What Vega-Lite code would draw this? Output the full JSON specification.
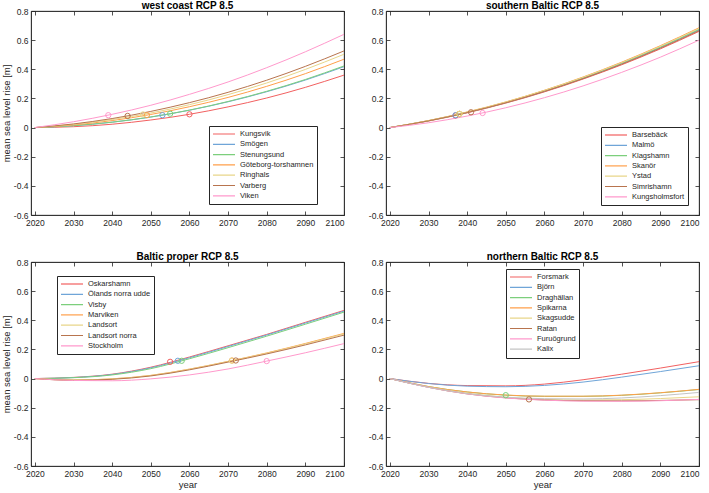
{
"$schema": "https://vega.github.io/schema/vega-lite/v6.json",
"background": "white",
"padding": {"left": 0, "top": 0, "right": 0, "bottom": 0},
"datasets": {
"w": [
{"year":2020,"Kungsvik":0,"Smögen":0,"Stenungsund":0,"Göteborg-torshamnen":0,"Ringhals":0,"Varberg":0,"Viken":0},
{"year":2030,"Kungsvik":0.006,"Smögen":0.013,"Stenungsund":0.013,"Göteborg-torshamnen":0.018,"Ringhals":0.022,"Varberg":0.025,"Viken":0.040},
{"year":2040,"Kungsvik":0.023,"Smögen":0.037,"Stenungsund":0.037,"Göteborg-torshamnen":0.048,"Ringhals":0.055,"Varberg":0.062,"Viken":0.091},
{"year":2050,"Kungsvik":0.052,"Smögen":0.072,"Stenungsund":0.073,"Göteborg-torshamnen":0.090,"Ringhals":0.100,"Varberg":0.111,"Viken":0.153},
{"year":2060,"Kungsvik":0.091,"Smögen":0.119,"Stenungsund":0.120,"Göteborg-torshamnen":0.143,"Ringhals":0.157,"Varberg":0.171,"Viken":0.228},
{"year":2070,"Kungsvik":0.142,"Smögen":0.177,"Stenungsund":0.179,"Göteborg-torshamnen":0.207,"Ringhals":0.226,"Varberg":0.242,"Viken":0.313},
{"year":2080,"Kungsvik":0.203,"Smögen":0.246,"Stenungsund":0.249,"Göteborg-torshamnen":0.283,"Ringhals":0.306,"Varberg":0.325,"Viken":0.411},
{"year":2090,"Kungsvik":0.276,"Smögen":0.326,"Stenungsund":0.330,"Göteborg-torshamnen":0.370,"Ringhals":0.399,"Varberg":0.420,"Viken":0.520},
{"year":2100,"Kungsvik":0.360,"Smögen":0.418,"Stenungsund":0.423,"Göteborg-torshamnen":0.469,"Ringhals":0.503,"Varberg":0.526,"Viken":0.640}
],
"s": [
{"year":2020,"Barsebäck":0,"Malmö":0,"Klagshamn":0,"Skanör":0,"Ystad":0,"Simrishamn":0,"Kungsholmsfort":0},
{"year":2030,"Barsebäck":0.045,"Malmö":0.047,"Klagshamn":0.047,"Skanör":0.048,"Ystad":0.048,"Simrishamn":0.046,"Kungsholmsfort":0.033},
{"year":2040,"Barsebäck":0.101,"Malmö":0.104,"Klagshamn":0.105,"Skanör":0.107,"Ystad":0.106,"Simrishamn":0.103,"Kungsholmsfort":0.079},
{"year":2050,"Barsebäck":0.168,"Malmö":0.172,"Klagshamn":0.173,"Skanör":0.176,"Ystad":0.175,"Simrishamn":0.170,"Kungsholmsfort":0.136},
{"year":2060,"Barsebäck":0.245,"Malmö":0.250,"Klagshamn":0.253,"Skanör":0.256,"Ystad":0.255,"Simrishamn":0.248,"Kungsholmsfort":0.205},
{"year":2070,"Barsebäck":0.333,"Malmö":0.339,"Klagshamn":0.342,"Skanör":0.347,"Ystad":0.345,"Simrishamn":0.336,"Kungsholmsfort":0.286},
{"year":2080,"Barsebäck":0.431,"Malmö":0.439,"Klagshamn":0.443,"Skanör":0.449,"Ystad":0.446,"Simrishamn":0.435,"Kungsholmsfort":0.379},
{"year":2090,"Barsebäck":0.540,"Malmö":0.549,"Klagshamn":0.553,"Skanör":0.562,"Ystad":0.558,"Simrishamn":0.545,"Kungsholmsfort":0.483},
{"year":2100,"Barsebäck":0.660,"Malmö":0.670,"Klagshamn":0.675,"Skanör":0.685,"Ystad":0.680,"Simrishamn":0.665,"Kungsholmsfort":0.600}
],
"b": [
{"year":2020,"Oskarshamn":0,"Ölands norra udde":0,"Visby":0,"Marviken":0,"Landsort":0,"Landsort norra":0,"Stockholm":0},
{"year":2030,"Oskarshamn":0.008,"Ölands norra udde":0.007,"Visby":0.006,"Marviken":-0.010,"Landsort":-0.010,"Landsort norra":-0.012,"Stockholm":-0.013},
{"year":2040,"Oskarshamn":0.030,"Ölands norra udde":0.028,"Visby":0.025,"Marviken":-0.002,"Landsort":-0.002,"Landsort norra":-0.005,"Stockholm":-0.015},
{"year":2050,"Oskarshamn":0.078,"Ölands norra udde":0.074,"Visby":0.068,"Marviken":0.022,"Landsort":0.021,"Landsort norra":0.018,"Stockholm":-0.002},
{"year":2060,"Oskarshamn":0.148,"Ölands norra udde":0.143,"Visby":0.136,"Marviken":0.065,"Landsort":0.064,"Landsort norra":0.060,"Stockholm":0.025},
{"year":2070,"Oskarshamn":0.225,"Ölands norra udde":0.220,"Visby":0.212,"Marviken":0.118,"Landsort":0.117,"Landsort norra":0.113,"Stockholm":0.066},
{"year":2080,"Oskarshamn":0.303,"Ölands norra udde":0.299,"Visby":0.291,"Marviken":0.176,"Landsort":0.174,"Landsort norra":0.169,"Stockholm":0.120},
{"year":2090,"Oskarshamn":0.386,"Ölands norra udde":0.381,"Visby":0.373,"Marviken":0.241,"Landsort":0.238,"Landsort norra":0.231,"Stockholm":0.177},
{"year":2100,"Oskarshamn":0.468,"Ölands norra udde":0.463,"Visby":0.456,"Marviken":0.310,"Landsort":0.306,"Landsort norra":0.298,"Stockholm":0.240}
],
"n": [
{"year":2020,"Forsmark":0,"Björn":0,"Draghällan":0,"Spikarna":0,"Skagsudde":0,"Ratan":0,"Furuögrund":0,"Kalix":0},
{"year":2030,"Forsmark":-0.033,"Björn":-0.034,"Draghällan":-0.055,"Spikarna":-0.055,"Skagsudde":-0.058,"Ratan":-0.060,"Furuögrund":-0.060,"Kalix":-0.060},
{"year":2040,"Forsmark":-0.048,"Björn":-0.052,"Draghällan":-0.092,"Spikarna":-0.092,"Skagsudde":-0.100,"Ratan":-0.105,"Furuögrund":-0.105,"Kalix":-0.103},
{"year":2050,"Forsmark":-0.050,"Björn":-0.056,"Draghällan":-0.114,"Spikarna":-0.113,"Skagsudde":-0.128,"Ratan":-0.132,"Furuögrund":-0.133,"Kalix":-0.128},
{"year":2060,"Forsmark":-0.038,"Björn":-0.047,"Draghällan":-0.122,"Spikarna":-0.121,"Skagsudde":-0.143,"Ratan":-0.147,"Furuögrund":-0.148,"Kalix":-0.138},
{"year":2070,"Forsmark":-0.008,"Björn":-0.024,"Draghällan":-0.122,"Spikarna":-0.121,"Skagsudde":-0.147,"Ratan":-0.152,"Furuögrund":-0.155,"Kalix":-0.140},
{"year":2080,"Forsmark":0.030,"Björn":0.010,"Draghällan":-0.115,"Spikarna":-0.114,"Skagsudde":-0.145,"Ratan":-0.153,"Furuögrund":-0.156,"Kalix":-0.133},
{"year":2090,"Forsmark":0.072,"Björn":0.048,"Draghällan":-0.098,"Spikarna":-0.097,"Skagsudde":-0.137,"Ratan":-0.150,"Furuögrund":-0.152,"Kalix":-0.117},
{"year":2100,"Forsmark":0.116,"Björn":0.088,"Draghällan":-0.075,"Spikarna":-0.074,"Skagsudde":-0.125,"Ratan":-0.145,"Furuögrund":-0.143,"Kalix":-0.095}
],
"m": [
{"panel":"w","station":"Kungsvik","year":2060,"rise":0.091},
{"panel":"w","station":"Smögen","year":2053,"rise":0.085},
{"panel":"w","station":"Stenungsund","year":2055,"rise":0.095},
{"panel":"w","station":"Göteborg-torshamnen","year":2049,"rise":0.085},
{"panel":"w","station":"Ringhals","year":2048,"rise":0.09},
{"panel":"w","station":"Varberg","year":2044,"rise":0.08},
{"panel":"w","station":"Viken","year":2039,"rise":0.085},
{"panel":"s","station":"Barsebäck","year":2037,"rise":0.083},
{"panel":"s","station":"Malmö","year":2037,"rise":0.085},
{"panel":"s","station":"Klagshamn","year":2038,"rise":0.093},
{"panel":"s","station":"Skanör","year":2038,"rise":0.094},
{"panel":"s","station":"Ystad","year":2038,"rise":0.094},
{"panel":"s","station":"Simrishamn","year":2041,"rise":0.105},
{"panel":"s","station":"Kungsholmsfort","year":2044,"rise":0.1},
{"panel":"b","station":"Oskarshamn","year":2055,"rise":0.115},
{"panel":"b","station":"Ölands norra udde","year":2057,"rise":0.122},
{"panel":"b","station":"Visby","year":2058,"rise":0.122},
{"panel":"b","station":"Marviken","year":2071,"rise":0.124},
{"panel":"b","station":"Landsort","year":2071,"rise":0.123},
{"panel":"b","station":"Landsort norra","year":2072,"rise":0.124},
{"panel":"b","station":"Stockholm","year":2080,"rise":0.12},
{"panel":"n","station":"Draghällan","year":2050,"rise":-0.114},
{"panel":"n","station":"Ratan","year":2056,"rise":-0.143}
]
},
"spacing": 24,
"resolve": {"scale": {"color": "independent"}, "legend": {"color": "independent"}},
"vconcat": [
{"hconcat": [
{"width": 313, "height": 204, "title": "west coast RCP 8.5",
 "resolve": {"axis": {"x": "independent", "y": "independent"}},
 "layer": [
 {"data": {"name": "w"},
  "transform": [{"fold": ["Kungsvik","Smögen","Stenungsund","Göteborg-torshamnen","Ringhals","Varberg","Viken"], "as": ["station","rise"]}],
  "mark": {"type": "line", "interpolate": "monotone", "strokeWidth": 1},
  "encoding": {
   "x": {"field": "year", "type": "quantitative", "scale": {"domain": [2019, 2100], "nice": false, "zero": false}, "axis": {"values": [2020,2030,2040,2050,2060,2070,2080,2090,2100], "format": "d", "title": null}},
   "y": {"field": "rise", "type": "quantitative", "scale": {"domain": [-0.6, 0.8], "nice": false}, "axis": {"values": [-0.6,-0.4,-0.2,0,0.2,0.4,0.6,0.8], "labelExpr": "replace(format(datum.value, '.1~f'), '\u2212', '-')", "title": "mean sea level rise [m]"}},
   "color": {"field": "station", "type": "nominal", "scale": {"domain": ["Kungsvik","Smögen","Stenungsund","Göteborg-torshamnen","Ringhals","Varberg","Viken"], "range": ["#f26060","#6fa5d8","#7ccf7c","#ff9f4a","#e8d68a","#b8744e","#ff99cc"]}, "legend": {"legendX": 178, "legendY": 115}}
  }},
 {"data": {"name": "m"},
  "transform": [{"filter": "datum.panel == 'w'"}],
  "mark": {"type": "point", "shape": "circle", "filled": false, "size": 28, "strokeWidth": 1, "opacity": 1},
  "encoding": {
   "x": {"field": "year", "type": "quantitative", "axis": {"orient": "top", "labels": false, "title": null, "values": [2020,2030,2040,2050,2060,2070,2080,2090,2100]}},
   "y": {"field": "rise", "type": "quantitative", "axis": {"orient": "right", "labels": false, "title": null, "values": [-0.6,-0.4,-0.2,0,0.2,0.4,0.6,0.8]}},
   "color": {"field": "station", "type": "nominal", "scale": {"domain": ["Kungsvik","Smögen","Stenungsund","Göteborg-torshamnen","Ringhals","Varberg","Viken"], "range": ["#f26060","#6fa5d8","#7ccf7c","#ff9f4a","#e8d68a","#b8744e","#ff99cc"]}, "legend": null}
  }}
 ]},
{"width": 313, "height": 204, "title": "southern Baltic RCP 8.5",
 "resolve": {"axis": {"x": "independent", "y": "independent"}},
 "layer": [
 {"data": {"name": "s"},
  "transform": [{"fold": ["Barsebäck","Malmö","Klagshamn","Skanör","Ystad","Simrishamn","Kungsholmsfort"], "as": ["station","rise"]}],
  "mark": {"type": "line", "interpolate": "monotone", "strokeWidth": 1},
  "encoding": {
   "x": {"field": "year", "type": "quantitative", "scale": {"domain": [2019, 2100], "nice": false, "zero": false}, "axis": {"values": [2020,2030,2040,2050,2060,2070,2080,2090,2100], "format": "d", "title": null}},
   "y": {"field": "rise", "type": "quantitative", "scale": {"domain": [-0.6, 0.8], "nice": false}, "axis": {"values": [-0.6,-0.4,-0.2,0,0.2,0.4,0.6,0.8], "labelExpr": "replace(format(datum.value, '.1~f'), '\u2212', '-')", "title": null}},
   "color": {"field": "station", "type": "nominal", "scale": {"domain": ["Barsebäck","Malmö","Klagshamn","Skanör","Ystad","Simrishamn","Kungsholmsfort"], "range": ["#f26060","#6fa5d8","#7ccf7c","#ff9f4a","#e8d68a","#b8744e","#ff99cc"]}, "legend": {"legendX": 215, "legendY": 116}}
  }},
 {"data": {"name": "m"},
  "transform": [{"filter": "datum.panel == 's'"}],
  "mark": {"type": "point", "shape": "circle", "filled": false, "size": 28, "strokeWidth": 1, "opacity": 1},
  "encoding": {
   "x": {"field": "year", "type": "quantitative", "axis": {"orient": "top", "labels": false, "title": null, "values": [2020,2030,2040,2050,2060,2070,2080,2090,2100]}},
   "y": {"field": "rise", "type": "quantitative", "axis": {"orient": "right", "labels": false, "title": null, "values": [-0.6,-0.4,-0.2,0,0.2,0.4,0.6,0.8]}},
   "color": {"field": "station", "type": "nominal", "scale": {"domain": ["Barsebäck","Malmö","Klagshamn","Skanör","Ystad","Simrishamn","Kungsholmsfort"], "range": ["#f26060","#6fa5d8","#7ccf7c","#ff9f4a","#e8d68a","#b8744e","#ff99cc"]}, "legend": null}
  }}
 ]}
], "spacing": 20, "resolve": {"scale": {"color": "independent"}, "legend": {"color": "independent"}}},
{"hconcat": [
{"width": 313, "height": 204, "title": "Baltic proper RCP 8.5",
 "resolve": {"axis": {"x": "independent", "y": "independent"}},
 "layer": [
 {"data": {"name": "b"},
  "transform": [{"fold": ["Oskarshamn","Ölands norra udde","Visby","Marviken","Landsort","Landsort norra","Stockholm"], "as": ["station","rise"]}],
  "mark": {"type": "line", "interpolate": "monotone", "strokeWidth": 1},
  "encoding": {
   "x": {"field": "year", "type": "quantitative", "scale": {"domain": [2019, 2100], "nice": false, "zero": false}, "axis": {"values": [2020,2030,2040,2050,2060,2070,2080,2090,2100], "format": "d", "title": "year"}},
   "y": {"field": "rise", "type": "quantitative", "scale": {"domain": [-0.6, 0.8], "nice": false}, "axis": {"values": [-0.6,-0.4,-0.2,0,0.2,0.4,0.6,0.8], "labelExpr": "replace(format(datum.value, '.1~f'), '\u2212', '-')", "title": "mean sea level rise [m]"}},
   "color": {"field": "station", "type": "nominal", "scale": {"domain": ["Oskarshamn","Ölands norra udde","Visby","Marviken","Landsort","Landsort norra","Stockholm"], "range": ["#f26060","#6fa5d8","#7ccf7c","#ff9f4a","#e8d68a","#b8744e","#ff99cc"]}, "legend": {"legendX": 26, "legendY": 14}}
  }},
 {"data": {"name": "m"},
  "transform": [{"filter": "datum.panel == 'b'"}],
  "mark": {"type": "point", "shape": "circle", "filled": false, "size": 28, "strokeWidth": 1, "opacity": 1},
  "encoding": {
   "x": {"field": "year", "type": "quantitative", "axis": {"orient": "top", "labels": false, "title": null, "values": [2020,2030,2040,2050,2060,2070,2080,2090,2100]}},
   "y": {"field": "rise", "type": "quantitative", "axis": {"orient": "right", "labels": false, "title": null, "values": [-0.6,-0.4,-0.2,0,0.2,0.4,0.6,0.8]}},
   "color": {"field": "station", "type": "nominal", "scale": {"domain": ["Oskarshamn","Ölands norra udde","Visby","Marviken","Landsort","Landsort norra","Stockholm"], "range": ["#f26060","#6fa5d8","#7ccf7c","#ff9f4a","#e8d68a","#b8744e","#ff99cc"]}, "legend": null}
  }}
 ]},
{"width": 313, "height": 204, "title": "northern Baltic RCP 8.5",
 "resolve": {"axis": {"x": "independent", "y": "independent"}},
 "layer": [
 {"data": {"name": "n"},
  "transform": [{"fold": ["Forsmark","Björn","Draghällan","Spikarna","Skagsudde","Ratan","Furuögrund","Kalix"], "as": ["station","rise"]}],
  "mark": {"type": "line", "interpolate": "monotone", "strokeWidth": 1},
  "encoding": {
   "x": {"field": "year", "type": "quantitative", "scale": {"domain": [2019, 2100], "nice": false, "zero": false}, "axis": {"values": [2020,2030,2040,2050,2060,2070,2080,2090,2100], "format": "d", "title": "year"}},
   "y": {"field": "rise", "type": "quantitative", "scale": {"domain": [-0.6, 0.8], "nice": false}, "axis": {"values": [-0.6,-0.4,-0.2,0,0.2,0.4,0.6,0.8], "labelExpr": "replace(format(datum.value, '.1~f'), '\u2212', '-')", "title": null}},
   "color": {"field": "station", "type": "nominal", "scale": {"domain": ["Forsmark","Björn","Draghällan","Spikarna","Skagsudde","Ratan","Furuögrund","Kalix"], "range": ["#f26060","#6fa5d8","#7ccf7c","#ff9f4a","#e8d68a","#b8744e","#ff99cc","#c4c4c4"]}, "legend": {"legendX": 120, "legendY": 7}}
  }},
 {"data": {"name": "m"},
  "transform": [{"filter": "datum.panel == 'n'"}],
  "mark": {"type": "point", "shape": "circle", "filled": false, "size": 28, "strokeWidth": 1, "opacity": 1},
  "encoding": {
   "x": {"field": "year", "type": "quantitative", "axis": {"orient": "top", "labels": false, "title": null, "values": [2020,2030,2040,2050,2060,2070,2080,2090,2100]}},
   "y": {"field": "rise", "type": "quantitative", "axis": {"orient": "right", "labels": false, "title": null, "values": [-0.6,-0.4,-0.2,0,0.2,0.4,0.6,0.8]}},
   "color": {"field": "station", "type": "nominal", "scale": {"domain": ["Forsmark","Björn","Draghällan","Spikarna","Skagsudde","Ratan","Furuögrund","Kalix"], "range": ["#f26060","#6fa5d8","#7ccf7c","#ff9f4a","#e8d68a","#b8744e","#ff99cc","#c4c4c4"]}, "legend": null}
  }}
 ]}
], "spacing": 20, "resolve": {"scale": {"color": "independent"}, "legend": {"color": "independent"}}}
],
"config": {
 "font": "Liberation Sans",
 "view": {"stroke": "#262626", "strokeWidth": 0.8},
 "axis": {"grid": false, "domainColor": "#262626", "domainWidth": 0.8, "tickColor": "#262626", "tickWidth": 0.8, "tickSize": -4, "labelPadding": 7, "labelColor": "#262626", "labelFontSize": 8.5, "titleColor": "#262626", "titleFontSize": 9.5, "titleFontWeight": "normal", "titlePadding": 2},
 "title": {"fontSize": 10, "fontWeight": "bold", "color": "#000000", "offset": -4, "anchor": "middle"},
 "legend": {"orient": "none", "title": null, "strokeColor": "#262626", "fillColor": "white", "padding": 3, "symbolType": "stroke", "symbolSize": 484, "symbolStrokeWidth": 1.2, "labelFontSize": 7.5, "labelColor": "#262626", "clipHeight": 10, "rowPadding": 0.3, "labelOffset": 4, "cornerRadius": 0}
}
}
